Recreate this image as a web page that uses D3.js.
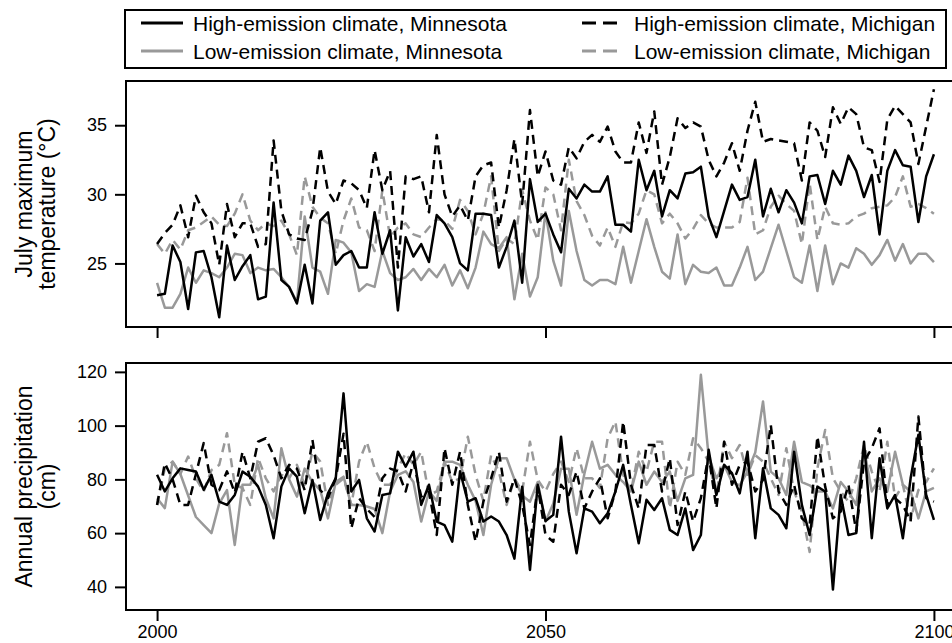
<!DOCTYPE html>
<html>
<head>
<meta charset="utf-8">
<script src="https://cdn.jsdelivr.net/npm/d3@7"></script>
<style>
body { margin: 0; background: #fff; }
svg { display: block; }
text { font-family: "Liberation Sans", Arial, Helvetica, sans-serif; }
</style>
</head>
<body>
<svg id="chart" width="952" height="643"></svg>
<script>
// yearly values 2000..2100
var years = d3.range(2000, 2101);

var seriesNames = ["High-emission climate, Minnesota", "High-emission climate, Michigan",
	"Low-emission climate, Minnesota", "Low-emission climate, Michigan"];

var tempHighMN = [22.7,22.8,26.3,25.1,21.7,25.8,25.9,24.0,21.1,26.3,23.8,24.8,25.6,22.4,22.6,29.4,23.8,23.3,22.1,24.9,
	22.1,28.1,28.7,24.9,25.6,25.9,24.7,24.7,28.7,25.7,27.4,21.6,26.9,25.5,26.4,25.1,28.5,27.9,26.9,25.0,
	24.5,28.6,28.6,28.5,24.7,26.2,28.1,23.6,31.1,28.0,28.6,27.1,25.8,30.4,29.7,30.7,30.2,30.2,31.3,27.8,
	27.8,27.3,32.5,30.3,31.7,28.4,30.3,29.7,31.5,31.6,32.0,28.4,26.9,28.8,30.7,29.6,29.8,32.5,28.4,30.4,
	28.7,30.3,29.4,27.9,31.3,31.4,29.3,31.7,30.7,32.8,31.7,29.8,31.4,27.1,31.7,33.2,32.1,32.0,28.0,31.3,32.9];
var tempHighMI = [26.4,27.2,27.8,29.2,26.9,29.9,28.7,27.9,24.9,29.3,26.9,27.9,27.9,26.2,26.4,33.9,28.8,27.1,26.8,26.7,
	28.8,33.4,30.2,29.3,31.0,30.8,30.3,29.0,33.2,30.3,31.7,24.7,31.3,31.1,31.3,28.7,34.3,30.0,28.4,29.2,
	28.1,31.3,32.1,32.3,27.6,30.3,34.0,29.3,36.1,31.3,33.1,31.0,30.7,33.4,32.6,33.8,34.3,33.8,34.9,33.1,
	32.3,32.3,35.2,33.0,36.0,30.7,32.7,35.5,34.8,35.2,34.9,32.5,31.3,32.3,33.7,31.7,34.6,36.7,33.8,34.0,
	33.9,33.8,33.7,31.0,35.2,34.6,32.7,36.3,35.1,36.3,35.8,33.4,33.2,30.9,35.4,36.4,35.8,35.2,32.2,34.9,37.6];
var tempLowMN = [23.6,21.8,21.8,22.8,24.7,23.6,24.5,24.3,24.0,24.7,25.7,25.6,24.3,24.7,24.5,24.6,24.0,23.3,22.2,28.4,
	24.7,24.4,22.8,26.7,26.5,25.8,23.0,23.5,23.3,25.9,24.3,23.8,24.0,24.6,23.8,24.6,24.0,24.9,23.4,24.5,
	23.2,24.7,27.3,26.4,26.1,26.9,22.4,25.7,22.6,24.0,28.7,25.2,23.4,28.8,25.9,23.8,23.4,23.8,23.8,23.5,
	26.2,23.6,25.9,28.2,26.2,24.4,23.9,27.1,23.5,24.9,24.4,24.3,24.7,23.4,23.4,24.7,26.2,23.8,24.4,26.1,
	27.8,25.9,24.0,23.6,26.3,23.0,26.3,23.5,25.0,24.7,26.1,25.7,24.9,25.6,26.7,25.2,26.4,25.0,25.7,25.7,25.1];
var tempLowMI = [26.4,25.7,26.7,26.0,27.4,27.6,28.0,28.4,27.8,27.7,28.6,30.0,28.1,27.4,27.9,27.7,28.1,27.1,25.6,31.3,
	29.1,28.3,27.9,25.7,28.1,29.7,27.6,27.4,25.9,30.3,26.9,27.6,27.9,27.1,26.9,27.6,28.2,28.1,27.5,29.6,
	28.8,27.1,28.6,31.3,25.9,26.8,26.4,30.3,28.1,26.7,30.5,30.0,27.4,32.5,29.5,28.5,27.0,26.3,27.6,26.2,
	28.0,27.9,28.6,30.3,30.0,27.9,28.6,27.9,26.8,27.5,28.5,27.9,27.6,27.6,27.6,28.0,31.2,27.1,27.4,29.1,
	29.9,29.3,28.8,26.4,30.8,26.7,29.1,27.9,27.8,27.9,28.4,28.6,29.0,29.1,29.2,29.8,31.3,29.1,29.3,29.0,28.6];

var precHighMN = [81.7,75.5,80.4,84.1,83.5,82.9,76.1,81.7,71.7,70.5,74.2,82.9,81.0,77.3,70.5,58.1,77.3,84.1,81.0,67.4,
	79.8,64.9,74.8,80.4,112,75.5,79.8,65.5,60.6,74.2,74.8,90.3,84.7,90.3,70.5,78.0,64.3,63.0,56.8,83.0,
	71.7,73.0,64.3,66.2,64.3,59.3,50.5,77.3,46.3,78.0,64.5,66.8,95.9,68.0,52.5,69.2,68.0,63.7,67.4,75.5,
	85.4,70.5,56.2,72.4,68.6,73.0,61.2,59.3,69.2,53.7,59.3,91.0,74.2,85.4,82.3,74.8,90.3,58.1,84.1,69.2,
	66.8,61.8,90.3,70.5,59.3,77.3,75.5,39.0,74.2,59.3,60.0,94.0,58.1,87.9,69.2,74.2,58.1,80.4,96.6,74.2,64.9];
var precHighMI = [70.5,86.0,80.0,70.5,70.5,82.0,93.5,78.0,76.0,83.0,75.0,90.3,80.4,94.0,95.3,89.0,80.4,85.4,84.0,76.0,
	94.7,76.0,73.0,80.4,97.0,61.8,73.0,69.0,66.0,80.4,84.0,83.0,75.5,86.6,73.6,75.5,59.3,91.6,78.0,90.3,
	70.5,56.8,71.7,80.4,90.3,71.7,80.4,70.5,55.6,77.3,59.3,56.8,78.0,74.2,82.9,69.2,75.5,80.4,65.5,75.5,
	101.5,78.0,69.2,92.8,92.8,75.5,87.9,63.0,75.5,64.3,73.0,89.1,69.2,94.0,78.0,85.4,86.6,75.5,79.8,100.3,
	75.5,70.5,78.0,65.5,63.0,96.0,77.3,65.5,68.0,78.0,60.6,86.6,91.6,99.0,70.5,73.0,70.5,64.3,103.4,73.0,71.7];
var precLowMN = [73.0,69.3,86.6,82.0,74.0,66.0,63.0,60.0,71.0,76.0,55.6,78.0,78.0,85.4,73.0,65.5,91.6,80.0,73.6,84.0,
	79.0,76.0,65.5,79.0,81.0,70.5,70.5,69.9,69.0,60.0,75.5,81.7,83.0,79.0,64.3,75.5,72.0,86.6,86.6,85.4,
	78.0,72.0,59.3,78.0,87.9,87.9,80.0,74.0,71.7,79.0,64.3,71.0,84.0,84.0,66.8,82.0,94.0,84.0,85.4,81.7,
	79.0,75.5,86.6,78.0,82.9,79.0,82.9,72.0,80.4,81.7,118.9,88.5,80.4,85.4,79.0,77.8,82.9,90.0,109.0,82.9,
	80.4,74.2,94.0,79.0,77.8,75.5,75.5,69.2,79.0,75.5,70.5,91.6,75.5,80.4,75.5,90.3,78.0,75.5,65.5,75.5,76.8];
var precLowMI = [70.5,84.1,86.6,82.0,88.5,80.4,75.5,83.5,85.4,97.2,78.0,76.8,70.5,88.0,80.4,75.5,81.7,80.4,85.4,78.0,
	90.3,86.6,70.5,78.0,80.4,70.5,86.6,94.0,84.1,78.0,78.0,84.1,89.7,85.4,90.3,74.2,75.5,86.6,79.0,80.4,
	95.9,81.7,72.0,89.0,82.9,70.5,80.4,75.5,94.0,79.8,75.5,82.0,86.6,79.0,91.6,80.4,80.4,76.8,95.3,101.5,
	81.7,75.5,90.3,82.9,94.0,94.0,69.2,86.6,81.7,95.3,91.6,86.6,74.2,94.0,87.9,92.8,81.7,89.0,86.6,80.4,
	74.2,91.6,75.5,68.0,53.0,84.1,98.4,80.4,75.5,71.7,80.4,92.8,82.9,75.5,94.0,73.0,78.0,65.0,76.0,79.0,84.1];

var tempTicks = [25, 30, 35];
var precTicks = [40, 60, 80, 100, 120];
var yearTicks = [2000, 2050, 2100];

// look of each series, same order as seriesNames
var lineColor = ["#000", "#000", "#999", "#999"];
var lineDash = [null, "9,6", null, "9,6"];
var drawOrder = [3, 2, 1, 0];

var svg = d3.select("#chart");

var x = d3.scaleLinear().domain([1996, 2104]).range([126, 965]);
var yTemp = d3.scaleLinear().domain([20.4, 38.2]).range([327, 81]);
var yPrec = d3.scaleLinear().domain([31.4, 123.3]).range([610, 363]);

function drawPanel(y, ticks, seriesData, titleLines, showYears) {
	var g = svg.append("g");
	var y0 = y.range()[0], y1 = y.range()[1];

	// series
	drawOrder.forEach(function(k) {
		var line = d3.line()
			.x(function(d, i) { return x(years[i]); })
			.y(function(d) { return y(d); });
		g.append("path")
			.datum(seriesData[k])
			.attr("d", line)
			.attr("fill", "none")
			.attr("stroke", lineColor[k])
			.attr("stroke-width", 2.5)
			.attr("stroke-linejoin", "round")
			.attr("stroke-dasharray", lineDash[k]);
	});

	g.append("rect")
		.attr("x", x.range()[0])
		.attr("y", y1)
		.attr("width", x.range()[1] - x.range()[0])
		.attr("height", y0 - y1)
		.attr("fill", "none")
		.attr("stroke", "#000")
		.attr("stroke-width", 2);

	var ay = g.append("g")
		.attr("transform", "translate(" + x.range()[0] + ",0)")
		.call(d3.axisLeft(y).tickValues(ticks).tickSize(11).tickPadding(8));
	ay.select(".domain").remove();

	var ax = g.append("g")
		.attr("transform", "translate(0," + y0 + ")")
		.call(d3.axisBottom(x).tickValues(yearTicks).tickSize(11).tickPadding(5)
			.tickFormat(showYears ? d3.format("d") : ""));
	ax.select(".domain").remove();
	ax.selectAll("text").attr("dy", "0.66em");

	g.selectAll(".tick line").attr("stroke-width", 2);
	g.selectAll(".tick text")
		.attr("font-size", 18)
		.attr("font-family", "'Liberation Sans', Arial, Helvetica, sans-serif")
		.attr("fill", "#000");

	var cy = (y0 + y1) / 2;
	titleLines.forEach(function(t, i) {
		g.append("text")
			.attr("transform", "translate(" + (32 + i * 23) + "," + cy + ") rotate(-90)")
			.attr("text-anchor", "middle")
			.attr("font-size", 23)
			.text(t);
	});
}

drawPanel(yTemp, tempTicks, [tempHighMN, tempHighMI, tempLowMN, tempLowMI],
	["July maximum", "temperature (\u00B0C)"], false);
drawPanel(yPrec, precTicks, [precHighMN, precHighMI, precLowMN, precLowMI],
	["Annual precipitation", "(cm)"], true);

// legend
var legend = svg.append("g");
legend.append("rect")
	.attr("x", 125).attr("y", 10)
	.attr("width", 821).attr("height", 58)
	.attr("fill", "#fff")
	.attr("stroke", "#000")
	.attr("stroke-width", 2);

var legCol = [141, 582];
var legRow = [23, 51];
[0, 2, 1, 3].forEach(function(k, j) {
	var lx = legCol[Math.floor(j / 2)], ly = legRow[j % 2];
	legend.append("line")
		.attr("x1", lx).attr("x2", lx + 42)
		.attr("y1", ly).attr("y2", ly)
		.attr("stroke", lineColor[k])
		.attr("stroke-width", 3)
		.attr("stroke-dasharray", lineDash[k] ? "14,7" : null);
	legend.append("text")
		.attr("x", lx + 52).attr("y", ly)
		.attr("dy", "0.36em")
		.attr("font-size", 21)
		.text(seriesNames[k]);
});
</script>
</body>
</html>
